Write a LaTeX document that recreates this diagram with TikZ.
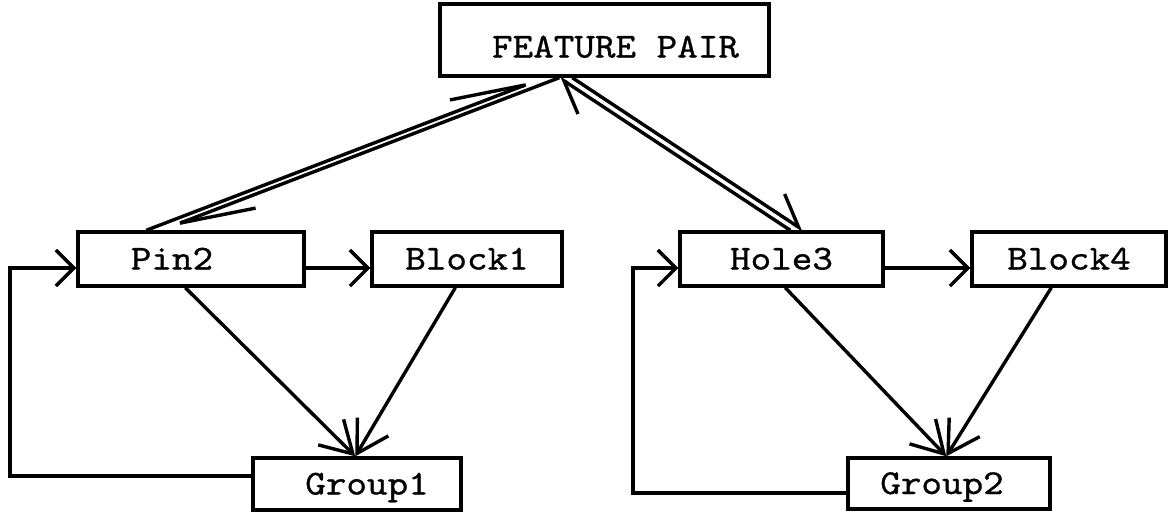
\documentclass[tikz,border=0pt]{standalone}
\usepackage{fontspec}
\newfontfamily\boxfont{lmmono10-regular.otf}[FakeStretch=1.12,FakeBold=0.8]
\usetikzlibrary{arrows.meta,calc}

\begin{document}
\begin{tikzpicture}[x=1pt,y=-1pt,line width=3.4pt,
  box/.style={draw,rectangle,inner sep=0pt,line width=3.4pt,
    text height=21pt,text depth=0pt,
    font=\boxfont\fontsize{35}{35}\selectfont},
  flow/.style={-{Straight Barb[length=18pt,width=36pt]}},
  merge/.style={-{Straight Barb[length=31pt,width=36pt]}},
  longharp/.style={-{Straight Barb[harpoon,length=76pt,width=26pt]}},
  shortharp/.style={-{Straight Barb[harpoon,length=30pt,width=40pt]}},
]
\useasboundingbox (0,0) rectangle (1170,515);

% boxes
\node[box,minimum width=329pt,minimum height=72pt] (fp) at (604.5,40)
  {\hspace*{22pt}\raisebox{-7pt}[\height][\depth]{FEATURE PAIR}};
\node[box,minimum width=226pt,minimum height=54pt] (pin) at (191,259) {Pin2\hspace*{38pt}};
\node[box,minimum width=190pt,minimum height=54pt] (blkA) at (467,259) {Block1};
\node[box,minimum width=203pt,minimum height=54pt] (hole) at (781.5,259) {Hole3};
\node[box,minimum width=194pt,minimum height=54pt] (blkB) at (1069,259) {Block4};
\node[box,minimum width=208pt,minimum height=52pt] (grpA) at (357,484) {\hspace*{20pt}Group1};
\node[box,minimum width=202pt,minimum height=51pt] (grpB) at (949,483.5) {Group2\hspace*{14pt}};

% bend columns of the two feedback loops
\coordinate (bendA) at (10,0);
\coordinate (bendB) at (633,0);

% paired links to the feature pair
\draw[longharp] ([xshift=70pt]pin.north west) -- ([xshift=106pt]fp.south west);
\draw[longharp] ([xshift=121pt]fp.south west) -- ([xshift=85pt]pin.north west);
\draw[shortharp] ([xshift=112pt]hole.north west) -- ([xshift=121pt]fp.south west);
\draw[shortharp] ([xshift=134pt]fp.south west) -- ([xshift=125pt]hole.north west);

% horizontal links
\draw[flow] ([yshift=-9pt]pin.east) -- ([yshift=-9pt]blkA.west);
\draw[flow] ([yshift=-9pt]hole.east) -- ([yshift=-9pt]blkB.west);

% links into the groups
\draw[merge] ([xshift=109pt]pin.south west) -- ([xshift=104pt]grpA.north west);
\draw[merge] ([xshift=85pt]blkA.south west) -- ([xshift=104pt]grpA.north west);
\draw[merge] ([xshift=107pt]hole.south west) -- ([xshift=100pt]grpB.north west);
\draw[merge] ([xshift=81pt]blkB.south west) -- ([xshift=100pt]grpB.north west);

% feedback loops
\draw[flow] ([yshift=8pt]grpA.west) coordinate (sA) -- (sA -| bendA) |- ([yshift=-9pt]pin.west);
\draw[flow] ([yshift=-9.5pt]grpB.west) coordinate (sB) -- (sB -| bendB) |- ([yshift=-9pt]hole.west);
\end{tikzpicture}
\end{document}
